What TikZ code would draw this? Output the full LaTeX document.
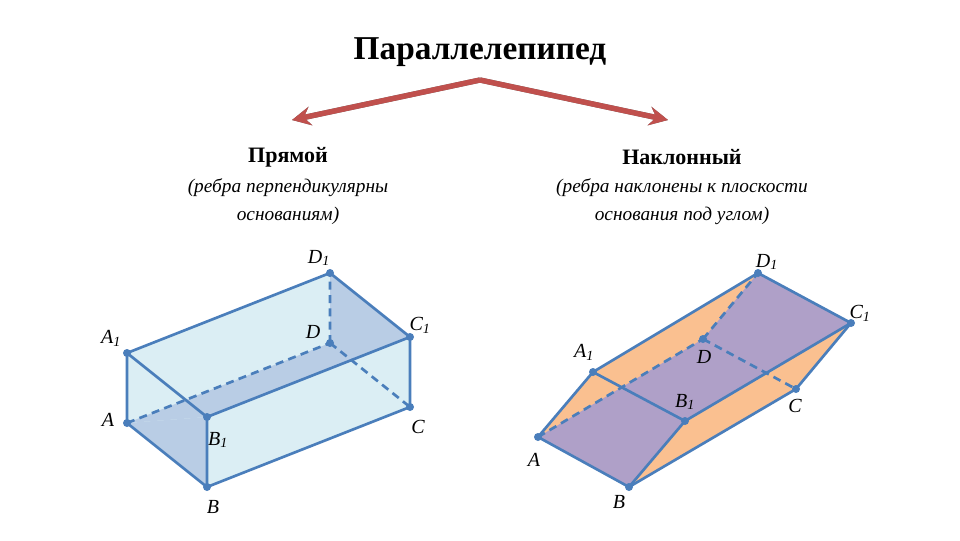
\documentclass[tikz,border=0pt]{standalone}
\usepackage{fontspec}
\setmainfont{Liberation Serif}
\usetikzlibrary{arrows.meta}
\definecolor{edge}{HTML}{4A7EBB}
\definecolor{lblue}{HTML}{DBEEF4}
\definecolor{dblue}{HTML}{B9CDE5}
\definecolor{orng}{HTML}{FAC090}
\definecolor{purp}{HTML}{AFA0C8}
\definecolor{rarrow}{HTML}{C0504D}
\tikzset{
 ed/.style={draw=edge,line width=2pt,line join=round},
 hid/.style={draw=edge,line width=2pt,dash pattern=on 6pt off 4pt},
 pt/.style={circle,fill=edge,inner sep=0pt,minimum size=6pt},
 lab/.style={font=\fontsize{15}{15}\selectfont\itshape},
 arr/.style={line width=4pt,-{Stealth[length=14pt,width=14pt,inset=5pt]}},
}
\begin{document}
\begin{tikzpicture}[x=0.75pt,y=-0.75pt]
\useasboundingbox (0,0) rectangle (960,540);
\node (title) at (480,52) {\fontsize{25}{25}\selectfont\bfseries Параллелепипед};
\coordinate (apex) at (480,80);
\coordinate (tl) at (292,120);
\coordinate (tr) at (668,120);
\begin{scope}[yshift=-2.5pt]
\draw[arr,draw=gray!80!black,fill=gray!80!black] ([yshift=0pt]apex) -- (tl);
\draw[arr,draw=gray!80!black,fill=gray!80!black] (apex) -- (tr);
\end{scope}
\draw[arr,draw=rarrow,fill=rarrow] (apex) -- (tl);
\draw[arr,draw=rarrow,fill=rarrow] (apex) -- (tr);
\node (l1) at (288,157) {\fontsize{16.5}{16.5}\selectfont\bfseries Прямой};
\node (l2) at (288,188) {\fontsize{14.5}{14.5}\selectfont\itshape (ребра перпендикулярны};
\node (l3) at (288,216) {\fontsize{14.5}{14.5}\selectfont\itshape основаниям)};
\node (r1) at (682,157) {\fontsize{16.5}{16.5}\selectfont\bfseries Наклонный};
\node (r2) at (682,188) {\fontsize{14.5}{14.5}\selectfont\itshape (ребра наклонены к плоскости};
\node (r3) at (682,216) {\fontsize{14.5}{14.5}\selectfont\itshape основания под углом)};
% left box
\coordinate (A1) at (127,353); \coordinate (A) at (127,423);
\coordinate (B1) at (207,417); \coordinate (B) at (207,487);
\coordinate (D1) at (330,273); \coordinate (D) at (330,343);
\coordinate (C1) at (410,337); \coordinate (C) at (410,407);
\fill[lblue] (A) -- (B) -- (C) -- (C1) -- (D1) -- (A1) -- cycle;
\fill[dblue] (A) -- (D) -- (D1) -- (C1) -- (B1) -- cycle;
\fill[dblue] (A) -- (B) -- (B1) -- cycle;
\draw[hid] (A) -- (D) (D) -- (D1) (D) -- (C);
\draw[ed] (A) -- (B) -- (C) -- (C1) -- (D1) -- (A1) -- cycle;
\draw[ed] (A1) -- (B1) -- (C1) (B1) -- (B);
\foreach \p in {A,B,C,D,A1,B1,C1,D1} \node[pt] at (\p) {};
\node[lab] at (108,420) {A};
\node[lab] at (111,338) {A\textsubscript{1}};
\node[lab] at (218,440) {B\textsubscript{1}};
\node[lab] at (213,507) {B};
\node[lab] at (418,427) {C};
\node[lab] at (420,325) {C\textsubscript{1}};
\node[lab] at (313,332) {D};
\node[lab] at (319,258) {D\textsubscript{1}};
% right box
\coordinate (PA) at (538,437); \coordinate (PB) at (629,487);
\coordinate (PB1) at (685,421); \coordinate (PA1) at (593,372);
\coordinate (PD) at (703,339); \coordinate (PC) at (796,389);
\coordinate (PD1) at (758,273); \coordinate (PC1) at (851,323);
\fill[orng] (PA) -- (PB) -- (PC) -- (PC1) -- (PD1) -- (PA1) -- cycle;
\fill[purp] (PA) -- (PB) -- (PB1) -- (PC1) -- (PD1) -- (PD) -- cycle;
\draw[hid] (PA) -- (PD) (PD) -- (PD1) (PD) -- (PC);
\draw[ed] (PA) -- (PB) -- (PC) -- (PC1) -- (PD1) -- (PA1) -- cycle;
\draw[ed] (PA1) -- (PB1) -- (PC1) (PB1) -- (PB);
\foreach \p in {PA,PB,PC,PD,PA1,PB1,PC1,PD1} \node[pt] at (\p) {};
\node[lab] at (534,460) {A};
\node[lab] at (584,352) {A\textsubscript{1}};
\node[lab] at (619,502) {B};
\node[lab] at (685,402) {B\textsubscript{1}};
\node[lab] at (795,406) {C};
\node[lab] at (860,313) {C\textsubscript{1}};
\node[lab] at (704,357) {D};
\node[lab] at (767,262) {D\textsubscript{1}};
\end{tikzpicture}
\end{document}
